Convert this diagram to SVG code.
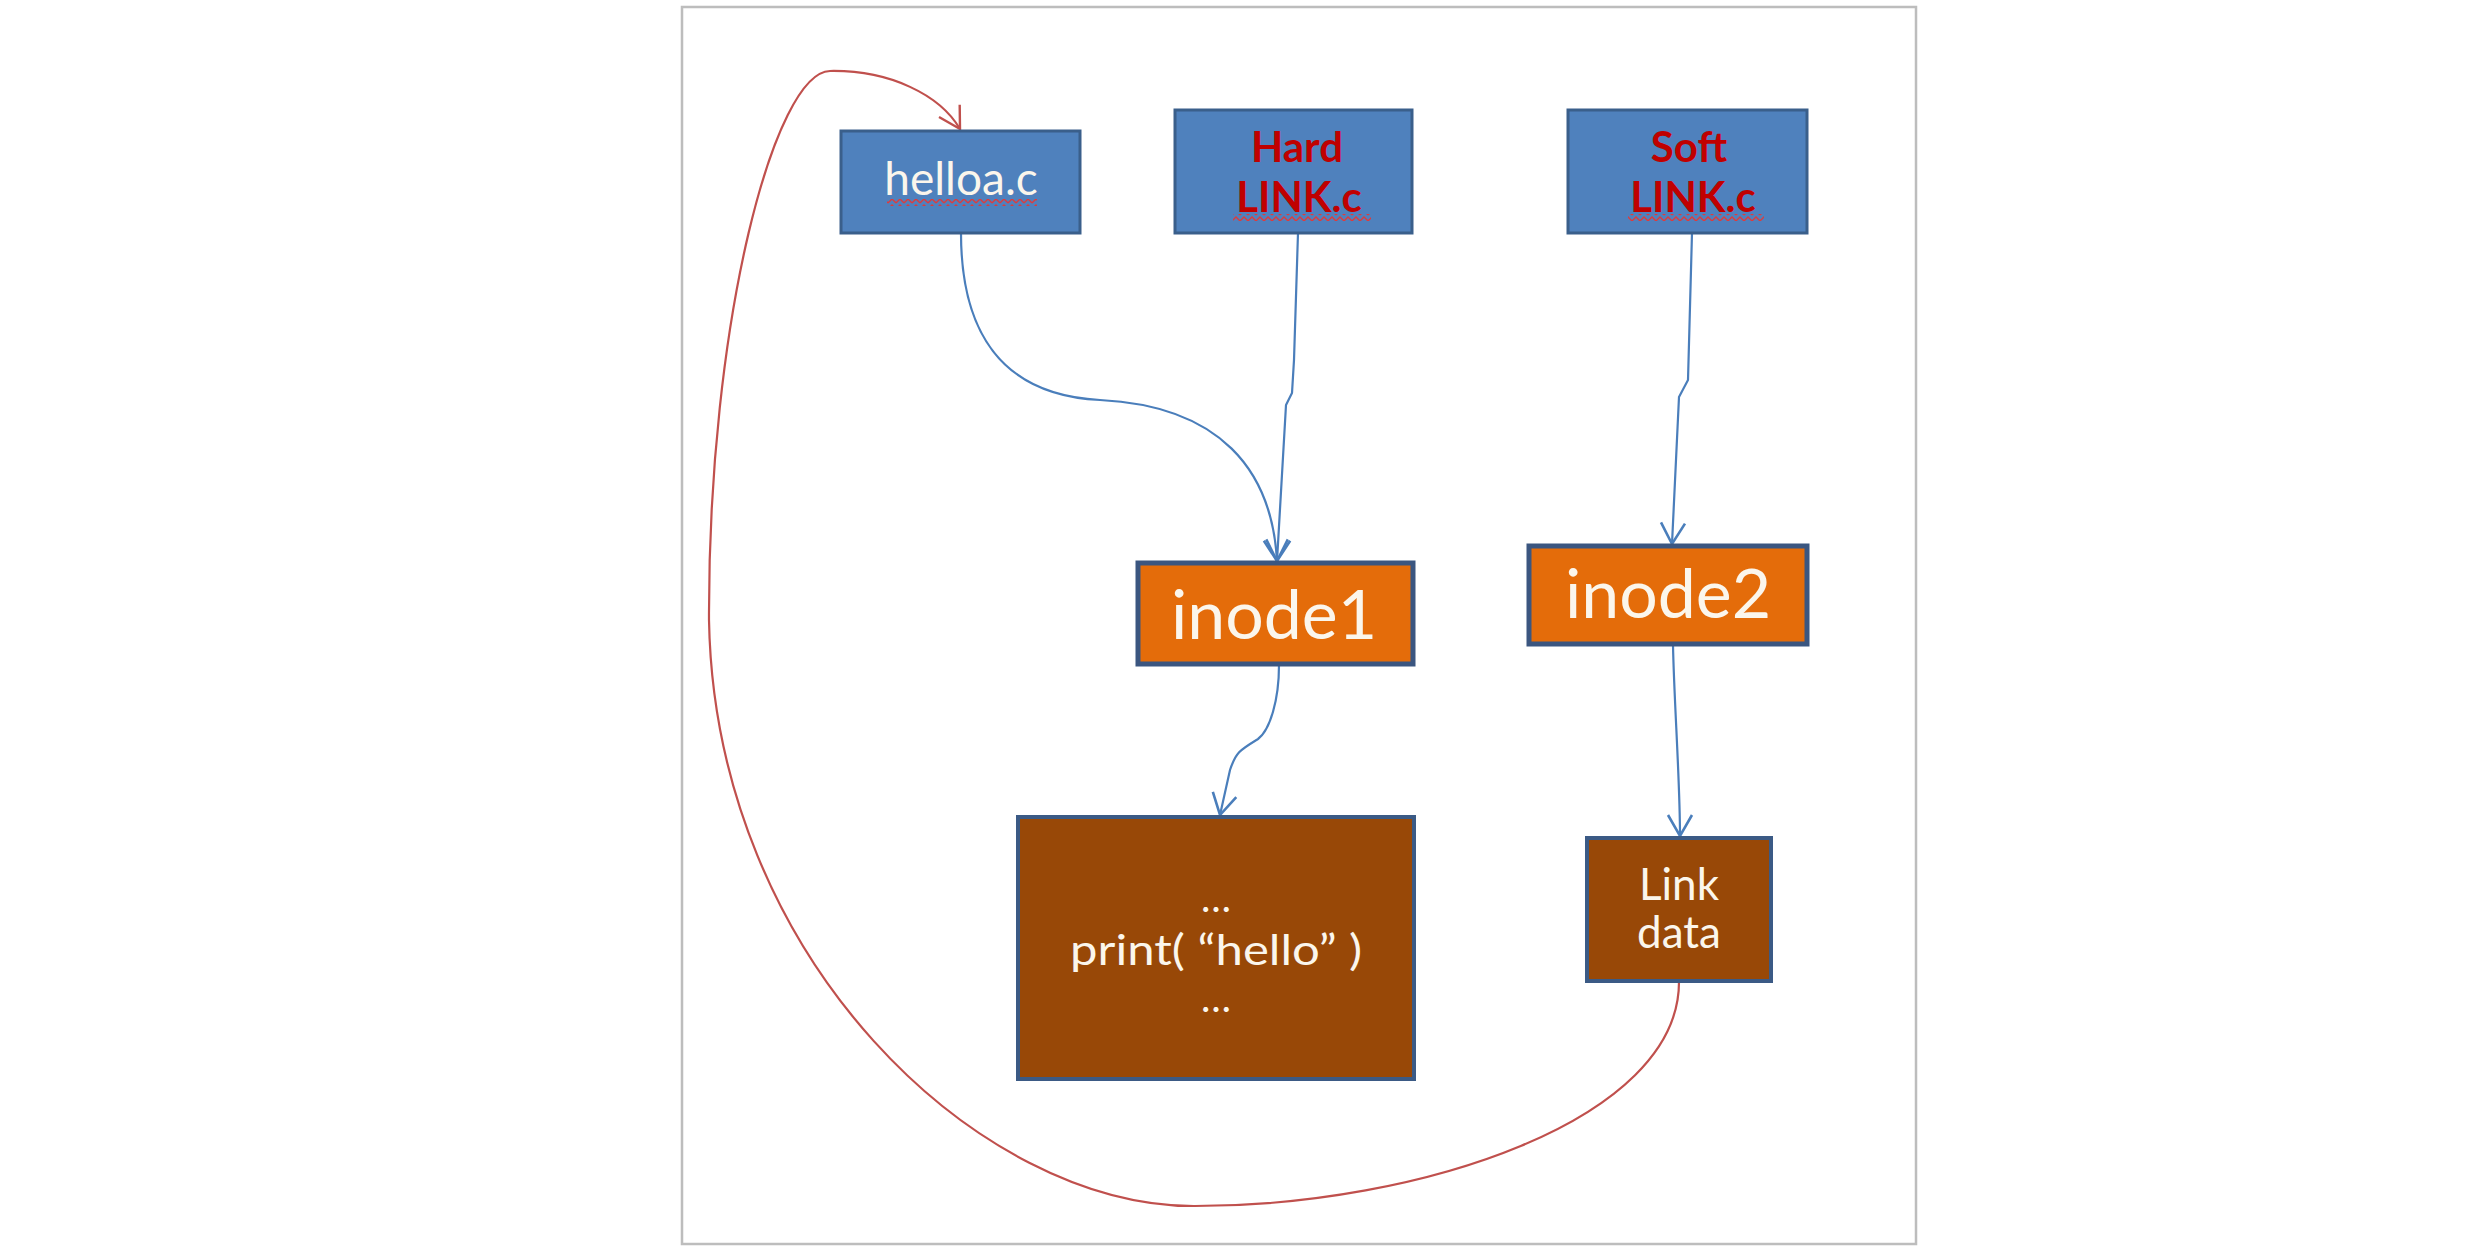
<svg xmlns="http://www.w3.org/2000/svg" width="2466" height="1253" viewBox="0 0 2466 1253">
<defs>
<style>
.blue{fill:#4f81bd;stroke:#3a5f8b;stroke-width:3}
.org{fill:#e46c0a;stroke:#3b5680;stroke-width:5}
.brn{fill:#984807;stroke:#3b5a85;stroke-width:4}
.wt{font-family:Lato,"Open Sans",sans-serif;fill:#fbf6ec;text-anchor:middle}
.rd{font-family:Lato,"Liberation Sans",sans-serif;font-weight:bold;fill:#c00000;text-anchor:middle}
.bl{fill:none;stroke:#4a7ebb;stroke-width:2.2}
.rl{fill:none;stroke:#c0504d;stroke-width:2.2}
</style>
<pattern id="zz" width="8" height="6" patternUnits="userSpaceOnUse">
<path d="M0,5 L4,1 L8,5" fill="none" stroke="#e03a3a" stroke-width="1.3"/>
</pattern>
<marker id="ab" markerUnits="userSpaceOnUse" markerWidth="30" markerHeight="32" viewBox="-24 -16 28 32" refX="0" refY="0" orient="auto">
<path d="M-21,-12 L0,0 L-21,12" fill="none" stroke="#4a7ebb" stroke-width="2.6"/>
</marker>
<marker id="ar" markerUnits="userSpaceOnUse" markerWidth="30" markerHeight="32" viewBox="-24 -16 28 32" refX="0" refY="0" orient="auto">
<path d="M-21,-12 L0,0 L-21,12" fill="none" stroke="#c0504d" stroke-width="2.4"/>
</marker>
</defs>
<rect width="2466" height="1253" fill="#ffffff"/>
<rect x="682" y="7" width="1234" height="1237" fill="#ffffff" stroke="#bdbdbd" stroke-width="2.5"/>

<g id="connectors">
<path class="bl" d="M961,233 C961,330 1000,395 1100,400 C1220,406 1272,470 1277,561" marker-end="url(#ab)"/>
<path class="bl" d="M1298,233 L1294,360 L1292,393 L1286,405 L1277,561" marker-end="url(#ab)"/>
<path class="bl" d="M1692,233 L1688,380 L1679,397 L1672,544" marker-end="url(#ab)"/>
<path class="bl" d="M1279,665 C1279,700 1270,730 1258,739 C1240,750 1236,752 1230,770 L1220,815" marker-end="url(#ab)"/>
<path class="bl" d="M1673,645 C1674,700 1680,780 1680,836" marker-end="url(#ab)"/>
<path class="rl" d="M1679,982 C1679,1120 1420,1206 1195,1206 C980,1207 715,960 709,620 C708,320 775,72 830,71 C890,70 940,95 960,129" marker-end="url(#ar)"/>
</g>

<g id="helloa">
<rect class="blue" x="841" y="131" width="239" height="102"/>
<text class="wt" x="961" y="195" font-size="46">helloa.c</text>
<rect x="887" y="199" width="150" height="7" fill="url(#zz)"/>
</g>

<g id="hardlink">
<rect class="blue" x="1175" y="110" width="237" height="123"/>
<text class="rd" x="1297" y="162" font-size="42">Hard</text>
<text class="rd" x="1299" y="212" font-size="42">LINK.c</text>
<rect x="1233" y="214" width="138" height="7" fill="url(#zz)"/>
</g>

<g id="softlink">
<rect class="blue" x="1568" y="110" width="239" height="123"/>
<text class="rd" x="1689" y="162" font-size="42">Soft</text>
<text class="rd" x="1693" y="212" font-size="42">LINK.c</text>
<rect x="1628" y="214" width="136" height="7" fill="url(#zz)"/>
</g>

<g id="inode1">
<rect class="org" x="1138" y="563" width="275" height="101"/>
<text class="wt" x="1274" y="639" font-size="68">inode1</text>
</g>

<g id="inode2">
<rect class="org" x="1529" y="546" width="278" height="98"/>
<text class="wt" x="1668" y="618" font-size="68">inode2</text>
</g>

<g id="code">
<rect class="brn" x="1018" y="817" width="396" height="262"/>
<text class="wt" x="1216" y="912" font-size="40">…</text>
<text class="wt" x="1216" y="965" font-size="42" textLength="292" lengthAdjust="spacingAndGlyphs">print( “hello” )</text>
<text class="wt" x="1216" y="1012" font-size="40">…</text>
</g>

<g id="linkdata">
<rect class="brn" x="1587" y="838" width="184" height="143"/>
<text class="wt" x="1679" y="900" font-size="44">Link</text>
<text class="wt" x="1679" y="948" font-size="44">data</text>
</g>
</svg>
